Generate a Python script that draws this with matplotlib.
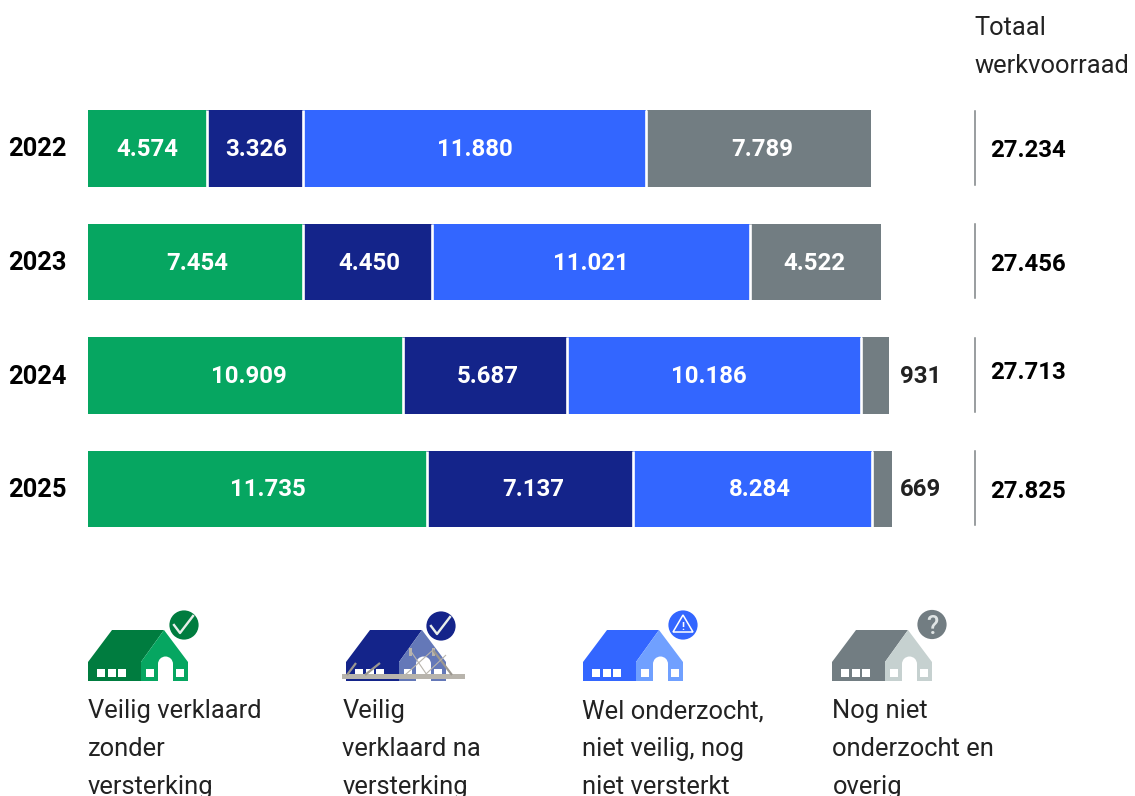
import matplotlib
matplotlib.use('Agg')
import matplotlib.pyplot as plt
from matplotlib.patches import Polygon, Circle, Rectangle

plt.rcParams['font.family'] = ['Roboto', 'DejaVu Sans']

# Data
jaren = ['2022', '2023', '2024', '2025']
veilig_zonder = [4120, 7454, 10909, 11735]  # 2022: bar drawn shorter than its label
veilig_na = [3326, 4450, 5687, 7137]
niet_veilig = [11880, 11021, 10186, 8284]
overig = [7789, 4522, 931, 669]

label_zonder = ['4.574', '7.454', '10.909', '11.735']
label_na = ['3.326', '4.450', '5.687', '7.137']
label_niet = ['11.880', '11.021', '10.186', '8.284']
label_overig = ['7.789', '4.522', '931', '669']
totalen = ['27.234', '27.456', '27.713', '27.825']

legenda = ['Veilig verklaard\nzonder\nversterking',
           'Veilig\nverklaard na\nversterking',
           'Wel onderzocht,\nniet veilig, nog\nniet versterkt',
           'Nog niet\nonderzocht en\noverig']

GROEN, NAVY, BLAUW, GRIJS = '#06A661', '#14248A', '#3366FF', '#727D82'
W, H = 1135, 796
PX_PER_UNIT = 0.02886
X0 = 88
RIJ = 113.5
Y0 = 148.5
FS = 17.3
FS_GROOT = 18.4

# Small label shifts in pixels, the labels are not centred exactly in the original
schuif = [[0, 1, 1, 3],
          [2, 2, 0, -1],
          [3, 3, -5, 3],
          [11, 4, 8, 0]]

fig = plt.figure(figsize=(W / 100, H / 100), dpi=100)

# Bars: data axes filling the figure
ax = fig.add_axes([0, 0, 1, 1])
ax.set_xlim(-X0 / PX_PER_UNIT, (W - X0) / PX_PER_UNIT)
ax.set_ylim((H - Y0) / RIJ, -Y0 / RIJ)
ax.axis('off')

series = [veilig_zonder, veilig_na, niet_veilig, overig]
labels = [label_zonder, label_na, label_niet, label_overig]
kleuren = [GROEN, NAVY, BLAUW, GRIJS]
links = [0, 0, 0, 0]
for k, (s, lab, kleur) in enumerate(zip(series, labels, kleuren)):
    for i in range(len(jaren)):
        # the grey part sits a bit further right, after the white gap
        if kleur == GRIJS:
            links[i] += 0.8 / PX_PER_UNIT
        ax.barh(i, s[i], left=links[i], height=0.67, color=kleur, linewidth=0)
        dx = schuif[i][k] / PX_PER_UNIT
        dy = -1.5 / RIJ
        if s[i] > 2000:
            ax.text(links[i] + s[i] / 2 + dx, i + dy, lab[i], color='white', fontsize=FS,
                    fontweight='bold', ha='center', va='center_baseline')
        else:
            ax.text(links[i] + s[i] + 290 + dx, i + dy, lab[i], color='#222222', fontsize=FS,
                    fontweight='bold', ha='left', va='center_baseline')
        links[i] += s[i]
        # white separator between segments
        if kleur != GRIJS:
            ax.vlines(links[i], i - 0.335, i + 0.335, color='white', linewidth=1.9)

# Overlay in pixel coordinates for text and icons
ov = fig.add_axes([0, 0, 1, 1])
ov.set_xlim(0, W)
ov.set_ylim(H, 0)
ov.axis('off')
ov.patch.set_alpha(0)

ov.text(974.5, 35, 'Totaal', fontsize=FS_GROOT, color='#222222')
ov.text(974.5, 73, 'werkvoorraad', fontsize=FS_GROOT, color='#222222')

totaal_y = [148, 262, 370, 489]
for i, jaar in enumerate(jaren):
    yc = Y0 + i * RIJ
    ov.text(8.5, yc - 1.5, jaar, fontsize=FS_GROOT, fontweight='bold', color='black',
            va='center_baseline')
    ov.plot([975, 975], [yc - 38, yc + 36], color='#7d8285', linewidth=1.1)
    ov.text(990.5, totaal_y[i], totalen[i], fontsize=FS, fontweight='bold', color='black',
            va='center_baseline')


# Draw one house icon, dx is the left offset
def huis(dx, dak, gevel, badge_x, badge_y, badge_kleur):
    ov.add_patch(Polygon([(dx, 662), (dx + 24, 630), (dx + 76, 630), (dx + 53, 662),
                          (dx + 53, 681), (dx, 681)], color=dak, lw=0))
    ov.add_patch(Polygon([(dx + 53, 662), (dx + 76, 630), (dx + 100, 662),
                          (dx + 100, 681), (dx + 53, 681)], color=gevel, lw=0))
    for wx in [9, 20, 30, 58, 88]:
        ov.add_patch(Rectangle((dx + wx, 669), 8, 8, color='white', lw=0))
    # door
    ov.add_patch(Rectangle((dx + 70, 664), 15, 17, color='white', lw=0))
    ov.add_patch(Circle((dx + 77.5, 664), 7.5, color='white', lw=0))
    ov.add_patch(Circle((badge_x, badge_y), 14.6, color=badge_kleur, lw=0))


huis(88, '#007C3F', GROEN, 184, 625, '#007C3F')
huis(346, NAVY, '#6478B8', 441, 626, NAVY)
huis(583, BLAUW, '#70A0FF', 683, 625, BLAUW)
huis(832, GRIJS, '#C6D1D0', 932, 624.5, GRIJS)

# Check marks
for bx, by in [(184, 625), (441, 626)]:
    ov.plot([bx - 10, bx - 4, bx + 9], [by, by + 8, by - 9], color='#e8eeea', linewidth=1.7)

# Scaffolding on the second icon
steun = '#9c9890'
for x1, y1, x2, y2 in [(347, 675, 356, 663), (365, 675, 380, 663), (433, 650, 452, 675)]:
    ov.plot([x1, x2], [y1, y2], color=steun, linewidth=1.6, solid_capstyle='butt')
for x1, y1, x2, y2 in [(410, 650, 427, 675), (405, 675, 433, 650), (425, 675, 446, 655)]:
    ov.plot([x1, x2], [y1, y2], color='#b8b4ac', linewidth=0.8, solid_capstyle='butt')
ov.add_patch(Rectangle((409, 648), 3, 8, color='#b8b4ac', lw=0))
ov.add_patch(Rectangle((432, 648), 3, 8, color='#b8b4ac', lw=0))
ov.add_patch(Rectangle((342, 674), 123, 5, color='#b8b4ac', lw=0))

# Warning triangle
ov.add_patch(Polygon([(683, 615), (673, 632), (693, 632)], fill=False, edgecolor='white', lw=1.1))
ov.text(683, 627.5, '!', color='white', fontsize=8, fontweight='bold', ha='center', va='center')
# Question mark
ov.text(932, 624.5, '?', color='#dfe4e4', fontsize=18, fontweight='medium', ha='center',
        va='center_baseline')

# Legend text
for x, tekst in zip([87.5, 342.5, 582.5, 832.5], legenda):
    for j, regel in enumerate(tekst.split('\n')):
        ov.text(x, 718 + j * 38, regel, fontsize=FS_GROOT, color='#222222')

fig.savefig('out.png', dpi=100)
